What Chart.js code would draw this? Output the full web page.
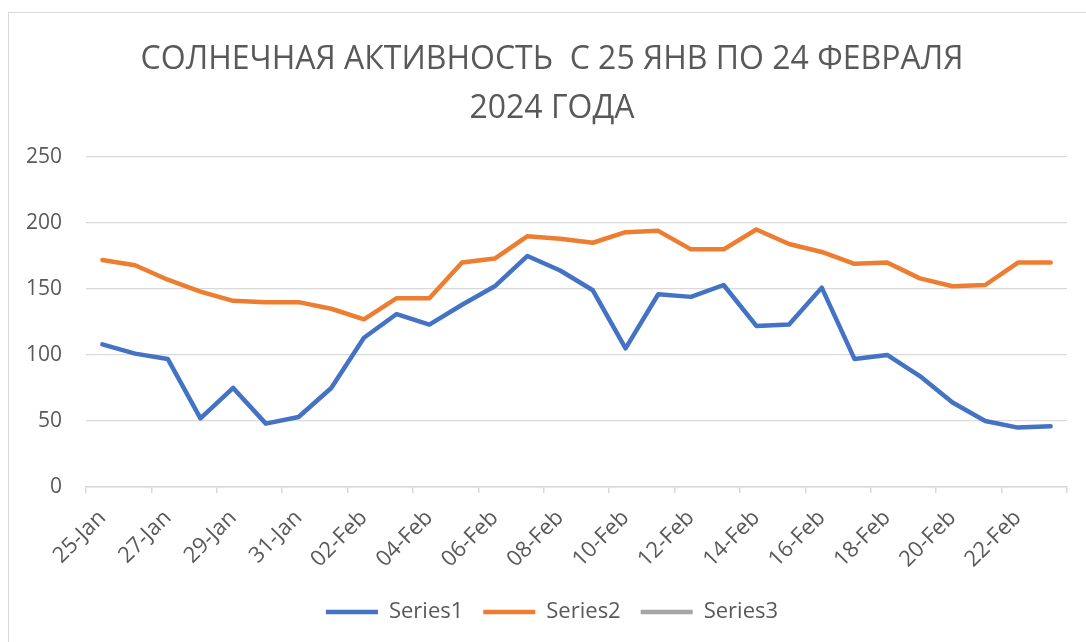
<!DOCTYPE html>
<html>
<head>
<meta charset="utf-8">
<script src="https://cdn.jsdelivr.net/npm/chart.js@4"></script>
<style>
  html, body { margin: 0; padding: 0; background: #fff; overflow: hidden; }
  #frame {
    position: absolute; left: 8px; top: 12px; width: 1100px; height: 660px;
    border-left: 1px solid #d9d9d9; border-top: 1px solid #d9d9d9;
  }
  #wrap { position: absolute; left: 0; top: 0; width: 1086px; height: 642px; }
</style>
</head>
<body>
<div id="frame"></div>
<div id="wrap"><canvas id="chart"></canvas></div>
<script>
// даты по оси X
const dates = [
  '25-Jan', '26-Jan', '27-Jan', '28-Jan', '29-Jan', '30-Jan', '31-Jan',
  '01-Feb', '02-Feb', '03-Feb', '04-Feb', '05-Feb', '06-Feb', '07-Feb',
  '08-Feb', '09-Feb', '10-Feb', '11-Feb', '12-Feb', '13-Feb', '14-Feb',
  '15-Feb', '16-Feb', '17-Feb', '18-Feb', '19-Feb', '20-Feb', '21-Feb',
  '22-Feb', '23-Feb'
];

const series1 = [108, 101, 97, 52, 75, 48, 53, 75, 113, 131, 123, 138, 152, 175, 164,
                 149, 105, 146, 144, 153, 122, 123, 151, 97, 100, 84, 64, 50, 45, 46];
const series2 = [172, 168, 157, 148, 141, 140, 140, 135, 127, 143, 143, 170, 173, 190, 188,
                 185, 193, 194, 180, 180, 195, 184, 178, 169, 170, 158, 152, 153, 170, 170];
const series3 = [];

const yTicks = [0, 50, 100, 150, 200, 250];

const titleLines = ['СОЛНЕЧНАЯ АКТИВНОСТЬ  С 25 ЯНВ ПО 24 ФЕВРАЛЯ', '2024 ГОДА'];

const textColor = '#595959';
const gridColor = '#d9d9d9';
const fontFamily = '"Open Sans", "Noto Sans", sans-serif';

function lineSet(label, data, color) {
  return {
    label: label,
    data: data,
    borderColor: color,
    backgroundColor: color,
    borderWidth: 4.5,
    borderCapStyle: 'round',
    borderJoinStyle: 'round',
    pointRadius: 0,
    pointHoverRadius: 0,
    pointStyle: 'line',
    tension: 0,
    fill: false
  };
}

// подписи оси Y выходят за левый отступ — расширяем область отсечения
const yLabelRoom = {
  id: 'yLabelRoom',
  afterLayout(chart) { chart.scales.y.left = 0; }
};

new Chart(document.getElementById('chart'), {
  type: 'line',
  data: {
    labels: dates,
    datasets: [
      lineSet('Series1', series1, '#4472c4'),
      lineSet('Series2', series2, '#ed7d31'),
      lineSet('Series3', series3, '#a5a5a5')
    ]
  },
  plugins: [yLabelRoom],
  options: {
    responsive: true,
    maintainAspectRatio: false,
    animation: false,
    layout: { padding: { left: 37, right: 19, top: 0, bottom: 9 } },
    plugins: {
      tooltip: { enabled: false },
      title: {
        display: true,
        text: titleLines,
        color: textColor,
        font: { family: fontFamily, size: 32, weight: 'normal', lineHeight: 1.53 },
        padding: { top: 35, bottom: 24 }
      },
      legend: {
        position: 'bottom',
        labels: {
          usePointStyle: true,
          pointStyleWidth: 52,
          boxHeight: 4,
          padding: 20,
          color: textColor,
          font: { family: fontFamily, size: 22 }
        }
      }
    },
    scales: {
      x: {
        offset: true,
        afterFit: scale => { scale.height = 94; },
        border: { display: true, color: gridColor, width: 1.5 },
        grid: {
          offset: true,
          drawOnChartArea: false,
          drawTicks: true,
          tickLength: 6,
          lineWidth: 1.5,
          color: ctx => (ctx.index === undefined || ctx.index % 2 === 0) ? gridColor : 'rgba(0,0,0,0)'
        },
        ticks: {
          autoSkip: false,
          maxRotation: 45,
          minRotation: 45,
          padding: 12,
          color: textColor,
          font: { family: fontFamily, size: 22 },
          callback: (v, i) => (i % 2 === 0 ? dates[i] : '')
        }
      },
      y: {
        min: 0,
        max: 250,
        afterFit: scale => { scale.width = 49; },
        afterBuildTicks: scale => { scale.ticks = yTicks.map(v => ({ value: v })); },
        border: { display: false },
        grid: { color: gridColor, lineWidth: 1.3, drawTicks: false },
        ticks: {
          padding: 24,
          color: textColor,
          font: { family: fontFamily, size: 21 }
        }
      }
    }
  }
});
</script>
</body>
</html>
